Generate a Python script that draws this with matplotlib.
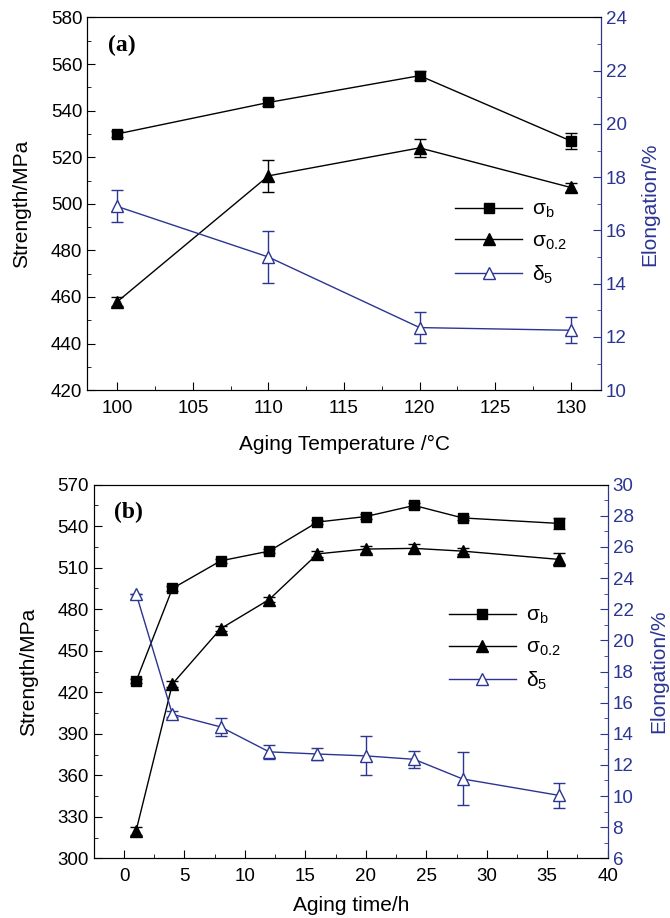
import matplotlib
matplotlib.use("Agg")
import matplotlib.pyplot as plt
from matplotlib.ticker import MultipleLocator

plt.rcParams["font.family"] = ["Liberation Sans", "DejaVu Sans"]
plt.rcParams["mathtext.default"] = "regular"

BLUE = "#2b3592"

# panel (a): aging temperature
temp = [100, 110, 120, 130]
sb_a = [530, 543.5, 555, 527]
sb_a_err = [1.2, 1.5, 2.0, 3.5]
sy_a = [458, 512, 524, 507]
sy_a_err = [2.0, 7.0, 4.0, 2.0]
el_a = [16.9, 15.0, 12.35, 12.25]
el_a_err = [0.6, 0.96, 0.57, 0.48]

# panel (b): aging time
time_h = [1, 4, 8, 12, 16, 20, 24, 28, 36]
sb_b = [428, 495, 515, 522, 543, 547, 555, 546, 542]
sb_b_err = [1.5, 1.5, 1.5, 1.5, 1.5, 1.5, 1.5, 1.5, 4.0]
sy_b = [320, 426, 466, 487, 520, 523.5, 524, 522, 516]
sy_b_err = [3.0, 2.0, 2.0, 2.0, 2.0, 2.5, 3.0, 2.0, 5.0]
el_b = [23.0, 15.25, 14.44, 12.84, 12.7, 12.58, 12.36, 11.1, 10.04]
el_b_err = [0.0, 0.2, 0.55, 0.45, 0.4, 1.25, 0.53, 1.7, 0.82]

labels = [r"$\sigma_{b}$", r"$\sigma_{0.2}$", r"$\delta_{5}$"]


def panel(ax, x, sb, sbe, sy, sye, el, ele, xlim, ylim, y2lim,
          xmaj, ymaj, xlabel, tag, leg_anchor, lpad, rpad, xpad):
    ax2 = ax.twinx()
    ax.errorbar(x, sb, yerr=sbe, fmt="none", ecolor="black", elinewidth=1, capsize=4)
    ax.errorbar(x, sy, yerr=sye, fmt="none", ecolor="black", elinewidth=1, capsize=4)
    h1, = ax.plot(x, sb, "-s", color="black", lw=1, ms=7)
    h2, = ax.plot(x, sy, "-^", color="black", lw=1, ms=9)
    ax2.errorbar(x, el, yerr=ele, fmt="none", ecolor=BLUE, elinewidth=1, capsize=4)
    h3, = ax2.plot(x, el, "-^", color=BLUE, lw=1, ms=9, mfc="white", mec=BLUE)

    ax.set_xlim(*xlim)
    ax.set_ylim(*ylim)
    ax2.set_ylim(*y2lim)
    ax.xaxis.set_major_locator(MultipleLocator(xmaj))
    ax.xaxis.set_minor_locator(MultipleLocator(xmaj / 2))
    ax.yaxis.set_major_locator(MultipleLocator(ymaj))
    ax.yaxis.set_minor_locator(MultipleLocator(ymaj / 2))
    ax2.yaxis.set_major_locator(MultipleLocator(2))
    ax2.yaxis.set_minor_locator(MultipleLocator(1))

    for a in (ax, ax2):
        a.tick_params(which="both", direction="in", labelsize=13.5)
        a.tick_params(which="major", length=6)
        a.tick_params(which="minor", length=3)
    ax.tick_params(top=False, right=False, which="both")
    ax.tick_params(axis="x", which="major", pad=7)
    ax2.tick_params(axis="y", which="both", colors=BLUE)
    ax2.spines["right"].set_color(BLUE)

    ax.set_xlabel(xlabel, fontsize=15, labelpad=xpad)
    ax.set_ylabel("Strength/MPa", fontsize=15, labelpad=lpad)
    ax2.set_ylabel("Elongation/%", fontsize=15, color=BLUE, labelpad=rpad)
    ax.text(0.04, 0.925, tag, transform=ax.transAxes, fontsize=17,
            fontweight="bold", family="Liberation Serif", va="center")

    ax2.legend([h1, h2, h3], labels, loc="center left", bbox_to_anchor=leg_anchor,
               frameon=False, fontsize=15, handlelength=3.2, numpoints=1,
               labelspacing=0.55, handletextpad=0.5)


fig = plt.figure(figsize=(6.7, 9.18), dpi=100)
ax_a = fig.add_axes([0.130, 0.575, 0.767, 0.406])
panel(ax_a, temp, sb_a, sb_a_err, sy_a, sy_a_err, el_a, el_a_err,
      (98, 132), (420, 580), (10, 24), 5, 20,
      "Aging Temperature /\u00b0C", "(a)", (0.68, 0.395), 14, 10, 13)

ax_b = fig.add_axes([0.140, 0.065, 0.767, 0.407])
panel(ax_b, time_h, sb_b, sb_b_err, sy_b, sy_b_err, el_b, el_b_err,
      (-2.5, 40), (300, 570), (6, 30), 5, 30,
      "Aging time/h", "(b)", (0.655, 0.56), 14, 11, 8)

fig.savefig("out.png", dpi=100)
